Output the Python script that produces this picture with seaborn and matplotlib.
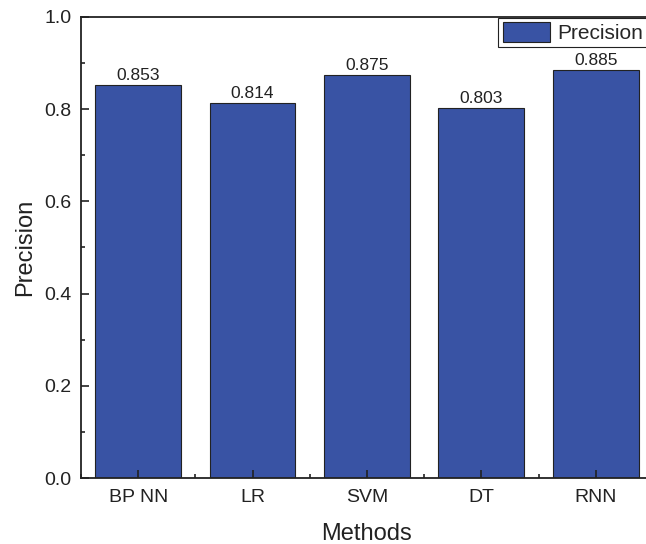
import matplotlib
matplotlib.use("Agg")
import matplotlib.pyplot as plt
import seaborn as sns
import pandas as pd
from matplotlib.ticker import MultipleLocator
from matplotlib.patches import Patch

sns.set_theme(style="ticks")
plt.rcParams['font.family'] = ['Liberation Sans', 'DejaVu Sans']

methods = ["BP NN", "LR", "SVM", "DT", "RNN"]
precision = [0.853, 0.814, 0.875, 0.803, 0.885]
bar_color = "#3953A4"

df = pd.DataFrame({"Methods": methods, "Precision": precision})

fig = plt.figure(figsize=(6.46, 5.44), dpi=100)
ax = fig.add_axes([0.1254, 0.1213, 0.8854, 0.8475])

sns.barplot(data=df, x="Methods", y="Precision", color=bar_color, saturation=1,
            width=0.75, edgecolor="#222222", linewidth=0.8, ax=ax)

for i, v in enumerate(precision):
    ax.text(i, v + 0.004, "{:.3f}".format(v), ha="center", va="bottom",
            fontsize=12.5, color="#222222")

ax.set_axisbelow(False)
ax.set_xlim(-0.5, 4.5)
ax.set_ylim(0, 1.0)
ax.yaxis.set_major_locator(MultipleLocator(0.2))
ax.yaxis.set_minor_locator(MultipleLocator(0.1))
ax.xaxis.set_minor_locator(MultipleLocator(0.5))
ax.set_xticks(range(5))
ax.set_xticklabels(methods)
ax.tick_params(axis="both", which="both", direction="in", colors="#222222")
ax.tick_params(axis="both", which="major", length=6, width=1.2, labelsize=14)
ax.tick_params(axis="x", which="major", pad=8)
ax.tick_params(axis="y", which="major", pad=7)
ax.tick_params(axis="both", which="minor", length=3, width=1.2)
for s in ax.spines.values():
    s.set_linewidth(1.3)
    s.set_color("#222222")
ax.set_xlabel("Methods", fontsize=17, labelpad=12, color="#222222")
ax.set_ylabel("Precision", fontsize=17, labelpad=6, color="#222222")

handle = Patch(facecolor=bar_color, edgecolor="#222222", linewidth=0.8)
leg = ax.legend([handle], ["Precision"], loc="upper right", fontsize=15,
                frameon=True, fancybox=False, framealpha=1, edgecolor="#222222",
                handlelength=2.3, handleheight=1.1, borderpad=0.2,
                handletextpad=0.33, borderaxespad=0.05, bbox_to_anchor=(0.992, 1.0))
leg.get_frame().set_linewidth(0.8)

fig.savefig("out.png", dpi=100)
